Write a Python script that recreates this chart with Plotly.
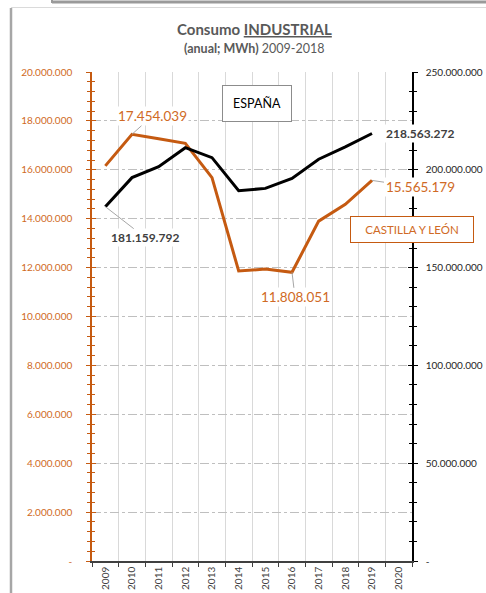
import plotly.graph_objects as go

# ---------------- data ----------------
years = [str(y) for y in range(2009, 2021)]          # category axis 2009..2020
data_years = years[:11]                                # values exist 2009..2019
cyl_values = [16160000, 17454039, 17270000, 17080000, 15680000, 11860000,
              11940000, 11808051, 13900000, 14590000, 15565179]   # Castilla y León (left axis)
esp_values = [181159792, 196000000, 201600000, 211300000, 206200000, 189300000,
              190500000, 195600000, 205400000, 211700000, 218563272]  # España (right axis)

left_tickvals = [i * 2000000 for i in range(11)]
left_ticktext = ["-"] + [f"{v:,}".replace(",", ".") for v in left_tickvals[1:]]
right_tickvals = [i * 50000000 for i in range(6)]
right_ticktext = ["-"] + [f"{v:,}".replace(",", ".") for v in right_tickvals[1:]]

ORANGE = "#C55A11"
ORANGE_TXT = "#D06A25"
DARK = "#404040"
FONT = "Lato"

# plot-area pixel geometry
W, H = 486, 593
L, R, T, B = 92, 74, 72, 32
PW, PH = W - L - R, H - T - B


def px(x):
    return (x - L) / PW


def py(y):
    return (H - B - y) / PH


def fmt(v):
    return f"{v:,}".replace(",", ".")


fig = go.Figure()

# invisible trace so all 12 categories exist
fig.add_trace(go.Scatter(x=years, y=[None] * len(years), mode="lines",
                         showlegend=False, hoverinfo="skip"))
fig.add_trace(go.Scatter(x=data_years, y=cyl_values, mode="lines",
                         line=dict(color=ORANGE, width=3), name="Castilla y León",
                         yaxis="y"))
fig.add_trace(go.Scatter(x=data_years, y=esp_values, mode="lines",
                         line=dict(color="#000000", width=3), name="España",
                         yaxis="y2"))
# helper traces for inner tick halves
fig.add_trace(go.Scatter(x=[years[0]], y=[None], yaxis="y3", showlegend=False,
                         hoverinfo="skip"))
fig.add_trace(go.Scatter(x=[years[0]], y=[None], yaxis="y4", showlegend=False,
                         hoverinfo="skip"))

fig.update_layout(
    width=W, height=H, autosize=False,
    margin=dict(l=L, r=R, t=T, b=B, autoexpand=False),
    paper_bgcolor="white", plot_bgcolor="white",
    showlegend=False,
    font=dict(family=FONT, color=DARK),
    xaxis=dict(
        type="category", categoryorder="array", categoryarray=years,
        range=[-0.5, 11.5], tickson="boundaries", automargin=False,
        showgrid=True, gridcolor="#D9D9D9", gridwidth=1,
        showline=True, linecolor="#404040", linewidth=1.5,
        ticks="outside", ticklen=4, tickcolor="#404040",
        tickangle=-90, tickfont=dict(size=10, color="#404040", family=FONT),
        zeroline=False,
    ),
    yaxis=dict(
        range=[0, 20000000], tickmode="array", tickvals=left_tickvals,
        ticktext=left_ticktext, automargin=False,
        showgrid=True, gridcolor="#BFBFBF", griddash="dashdot", gridwidth=1,
        showline=True, linecolor=ORANGE, linewidth=1.5,
        ticks="outside", ticklen=4, tickcolor=ORANGE, tickwidth=1,
        ticklabelstandoff=12,
        minor=dict(ticks="outside", dtick=400000, tick0=0, ticklen=3,
                   tickcolor=ORANGE, showgrid=False),
        tickfont=dict(size=10, color=ORANGE_TXT, family=FONT),
        zeroline=False,
    ),
    yaxis2=dict(
        range=[0, 250000000], overlaying="y", side="right", anchor="x",
        tickmode="array", tickvals=right_tickvals, ticktext=right_ticktext,
        automargin=False,
        showgrid=False, showline=True, linecolor="#000000", linewidth=1.5,
        ticks="outside", ticklen=4, tickcolor="#000000",
        ticklabelstandoff=6,
        minor=dict(ticks="outside", dtick=10000000, tick0=0, ticklen=3,
                   tickcolor="#000000", showgrid=False),
        tickfont=dict(size=10, color="#262626", family=FONT),
        zeroline=False,
    ),
    yaxis3=dict(
        range=[0, 20000000], overlaying="y", side="left", anchor="x",
        tickmode="array", tickvals=left_tickvals, showticklabels=False,
        automargin=False,
        showgrid=False, showline=False, ticks="inside", ticklen=4,
        tickcolor=ORANGE,
        minor=dict(ticks="inside", dtick=400000, tick0=0, ticklen=3,
                   tickcolor=ORANGE, showgrid=False),
        zeroline=False,
    ),
    yaxis4=dict(
        range=[0, 250000000], overlaying="y", side="right", anchor="x",
        tickmode="array", tickvals=right_tickvals, showticklabels=False,
        automargin=False,
        showgrid=False, showline=False, ticks="inside", ticklen=4,
        tickcolor="#000000",
        minor=dict(ticks="inside", dtick=10000000, tick0=0, ticklen=3,
                   tickcolor="#000000", showgrid=False),
        zeroline=False,
    ),
)

annotations = [
    # titles
    dict(xref="paper", yref="paper", x=px(254), y=py(29), showarrow=False,
         xanchor="center", yanchor="middle",
         text="<b>Consumo <u>INDUSTRIAL</u></b>",
         font=dict(size=15, color="#595959", family=FONT)),
    dict(xref="paper", yref="paper", x=px(254), y=py(48), showarrow=False,
         xanchor="center", yanchor="middle",
         text="<b>(anual; MWh)</b> 2009-2018",
         font=dict(size=12.5, color="#595959", family=FONT)),
    # series boxes
    dict(xref="paper", yref="paper", x=px(257), y=py(103.5), showarrow=False,
         xanchor="center", yanchor="middle",
         text="ESPAÑA", font=dict(size=12.5, color="#000000", family=FONT),
         bordercolor="#8C8C8C", borderwidth=1, borderpad=0,
         width=68, height=35, bgcolor="white"),
    dict(xref="paper", yref="paper", x=px(412), y=py(229.5), showarrow=False,
         xanchor="center", yanchor="middle",
         text="CASTILLA Y LEÓN", font=dict(size=11.5, color=ORANGE_TXT, family=FONT),
         bordercolor=ORANGE, borderwidth=1, borderpad=0,
         width=122, height=25, bgcolor="white"),
    # data labels (x given as category index)
    dict(x=1, y=cyl_values[1], xref="x", yref="y",
         text=fmt(cyl_values[1]), bgcolor="white",
         font=dict(size=13.5, color=ORANGE_TXT, family=FONT),
         showarrow=True, arrowhead=0, arrowwidth=1, arrowcolor="#A6A6A6",
         ax=20, ay=-18, standoff=0),
    dict(x=0, y=esp_values[0], xref="x", yref="y2",
         text=f"<b>{fmt(esp_values[0])}</b>", bgcolor="white",
         font=dict(size=12, color=DARK, family=FONT),
         showarrow=True, arrowhead=0, arrowwidth=1, arrowcolor="#A6A6A6",
         ax=40, ay=31, standoff=0),
    dict(x=10, y=esp_values[10], xref="x", yref="y2",
         text=f"<b>{fmt(esp_values[10])}</b>", bgcolor="white",
         font=dict(size=12, color=DARK, family=FONT),
         showarrow=False, xanchor="left", yanchor="middle", xshift=12),
    dict(x=10, y=cyl_values[10], xref="x", yref="y",
         text=fmt(cyl_values[10]), bgcolor="white",
         font=dict(size=13.5, color=ORANGE_TXT, family=FONT),
         showarrow=True, arrowhead=0, arrowwidth=1, arrowcolor="#A6A6A6",
         ax=48, ay=7, standoff=0),
    dict(x=7, y=cyl_values[7], xref="x", yref="y",
         text=fmt(cyl_values[7]), bgcolor="white",
         font=dict(size=13.5, color=ORANGE_TXT, family=FONT),
         showarrow=True, arrowhead=0, arrowwidth=1, arrowcolor="#A6A6A6",
         ax=3, ay=25, standoff=0),
]
fig.update_layout(annotations=annotations)

# frame decorations around the chart
shapes = [
    dict(type="line", xref="paper", yref="paper", x0=px(11), x1=px(11),
         y0=py(8), y1=py(H), line=dict(color="#A6A6A6", width=2.5)),
    dict(type="line", xref="paper", yref="paper", x0=px(11), x1=px(W),
         y0=py(7.5), y1=py(7.5), line=dict(color="#DADADA", width=1)),
    dict(type="line", xref="paper", yref="paper", x0=px(52), x1=px(W),
         y0=py(2), y1=py(2), line=dict(color="#9A9A9A", width=3)),
    dict(type="line", xref="paper", yref="paper", x0=px(52), x1=px(52),
         y0=py(0), y1=py(3), line=dict(color="#9A9A9A", width=2)),
]
fig.update_layout(shapes=shapes)

fig.write_html(
    "out.html",
    config={"displayModeBar": False},
    post_script="document.body.style.margin='0';document.body.style.overflow='hidden';",
)
